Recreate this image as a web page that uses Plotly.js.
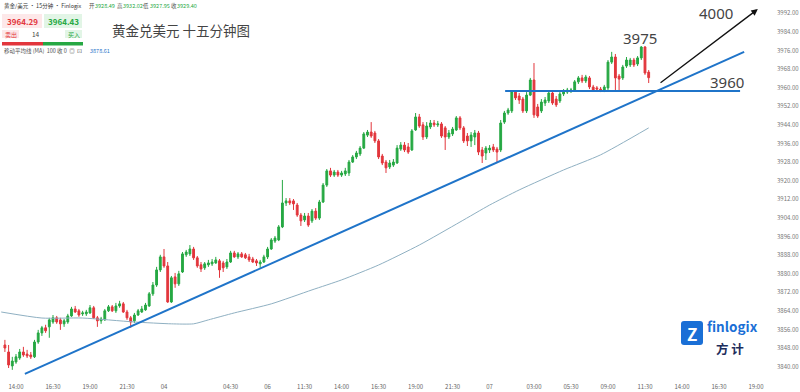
<!DOCTYPE html>
<html><head><meta charset="utf-8">
<script src="https://cdn.plot.ly/plotly-3.0.1.min.js"></script>
<style>html,body{margin:0;padding:0;background:#fff;}#chart{width:800px;height:392px;}</style>
</head><body><div id="chart"></div>
<script>
// ---- data (15-minute candles, index 0 = first "14:00" tick) ----
const firstIndex = -3;
const openP = [
3849.3,3846.3,3840.3,3842.0,3843.7,3846.3,3845.4,3845.0,3844.2,3850.6,
3854.5,3856.7,3857.1,3859.2,3861.0,3860.1,3858.4,3859.2,3861.8,3864.8,
3864.0,3862.7,3862.7,3863.1,3865.3,3861.0,3859.7,3860.1,3864.0,3865.7,
3864.0,3866.1,3867.0,3863.5,3861.0,3859.7,3862.2,3863.5,3864.4,3866.1,
3871.3,3875.1,3881.6,3887.2,3883.3,3867.8,3878.6,3875.6,3880.7,3888.1,
3888.5,3890.6,3886.8,3883.8,3882.5,3883.8,3884.2,3884.6,3885.5,3884.6,
3882.9,3885.0,3888.9,3887.2,3888.5,3888.1,3887.2,3886.3,3885.5,3884.2,
3885.0,3887.2,3890.6,3894.0,3894.5,3900.1,3910.4,3911.3,3911.3,3909.5,
3905.2,3903.1,3904.8,3902.7,3906.9,3903.9,3910.8,3918.1,3924.2,3922.4,
3923.7,3922.4,3922.9,3923.3,3928.0,3930.2,3931.5,3934.0,3939.6,3940.9,
3940.5,3937.1,3930.6,3928.0,3925.9,3926.7,3927.6,3933.6,3935.3,3934.5,
3933.2,3941.8,3947.4,3944.0,3938.8,3943.1,3944.8,3944.0,3944.4,3942.7,
3938.8,3940.1,3941.8,3947.0,3942.7,3939.2,3937.1,3938.8,3940.5,3933.2,
3931.9,3933.2,3934.5,3933.6,3933.2,3945.2,3949.1,3950.0,3958.1,3956.4,
3955.1,3950.0,3956.8,3963.3,3951.7,3950.0,3953.4,3954.3,3957.7,3955.1,
3954.3,3957.3,3958.1,3958.6,3959.0,3962.5,3964.2,3962.9,3964.2,3960.3,
3959.9,3959.4,3959.0,3959.9,3971.0,3973.2,3965.0,3964.2,3969.3,3969.8,
3971.9,3970.2,3972.8,3977.5,3966.7];
const closeP = [
3848.0,3840.7,3842.4,3844.2,3846.3,3845.0,3844.6,3844.2,3850.6,3854.5,
3856.7,3855.4,3860.1,3861.0,3859.2,3858.4,3859.7,3861.8,3864.8,3863.5,
3862.2,3863.1,3863.5,3865.3,3861.0,3859.7,3860.5,3864.0,3865.7,3864.0,
3866.1,3867.0,3863.5,3861.0,3859.2,3862.2,3864.0,3864.8,3866.5,3871.3,
3875.1,3881.6,3887.2,3883.3,3867.8,3878.2,3875.6,3879.9,3888.5,3889.3,
3890.6,3886.8,3883.3,3882.0,3884.2,3884.6,3885.0,3885.9,3881.6,3882.5,
3885.0,3888.9,3887.2,3888.5,3887.2,3886.8,3885.9,3885.0,3884.6,3885.0,
3887.2,3890.6,3894.5,3895.3,3900.1,3910.4,3911.3,3910.4,3910.0,3905.2,
3902.7,3904.8,3900.9,3906.9,3903.9,3910.8,3918.1,3924.2,3922.4,3923.7,
3922.4,3923.3,3924.2,3928.0,3930.2,3931.9,3934.0,3940.1,3940.9,3939.2,
3937.1,3930.2,3927.6,3925.5,3927.6,3928.0,3934.0,3935.3,3933.2,3932.3,
3941.4,3947.4,3943.5,3938.8,3943.5,3944.8,3944.0,3944.4,3939.2,3938.8,
3940.5,3942.2,3947.0,3942.7,3937.1,3937.1,3939.6,3940.5,3932.3,3930.6,
3934.0,3934.0,3933.2,3932.3,3944.8,3949.1,3950.4,3958.1,3955.6,3954.7,
3950.0,3956.8,3963.3,3948.3,3947.8,3953.8,3954.7,3957.7,3953.4,3952.6,
3957.3,3958.6,3959.0,3959.0,3962.5,3964.2,3962.9,3964.6,3960.3,3959.0,
3959.4,3959.0,3960.3,3971.0,3973.2,3964.2,3963.7,3968.9,3971.9,3971.9,
3969.8,3972.8,3977.5,3966.3,3964.3];
const highP = [
3851.5,3849.3,3844.2,3845.4,3847.6,3848.5,3847.2,3846.3,3851.5,3855.8,
3857.5,3858.0,3861.0,3862.2,3861.8,3861.0,3860.5,3862.7,3865.7,3866.1,
3864.8,3864.0,3864.4,3866.5,3866.1,3861.8,3861.4,3864.8,3866.5,3866.5,
3867.4,3868.3,3867.8,3864.4,3861.8,3863.1,3864.8,3866.1,3867.4,3872.1,
3876.4,3882.9,3888.1,3890.6,3885.0,3879.0,3880.3,3881.2,3889.3,3890.2,
3892.3,3891.5,3887.6,3885.0,3885.0,3885.9,3886.3,3887.2,3886.3,3885.5,
3886.3,3889.8,3889.8,3889.3,3889.3,3888.9,3888.5,3887.2,3886.3,3885.9,
3888.1,3891.5,3895.3,3896.2,3900.9,3920.3,3912.5,3912.5,3912.1,3910.4,
3906.1,3906.1,3906.1,3907.8,3908.2,3911.7,3919.0,3925.0,3925.5,3924.6,
3924.6,3924.2,3925.5,3928.9,3931.0,3932.8,3934.9,3940.9,3941.8,3945.2,
3941.4,3937.9,3931.5,3928.9,3928.9,3929.3,3935.3,3936.6,3936.6,3936.2,
3942.2,3949.1,3948.7,3945.2,3945.2,3946.1,3946.1,3945.7,3945.2,3943.5,
3941.8,3943.1,3947.8,3947.8,3943.5,3940.5,3940.9,3941.8,3941.4,3934.5,
3934.9,3935.3,3935.8,3934.5,3946.1,3950.0,3951.3,3959.0,3959.0,3957.7,
3956.0,3958.1,3964.2,3970.6,3953.0,3955.1,3956.0,3958.6,3958.6,3956.4,
3958.1,3959.4,3959.9,3959.9,3963.3,3965.0,3965.5,3965.5,3965.0,3961.2,
3960.7,3960.3,3961.2,3971.9,3975.4,3974.5,3965.9,3969.8,3973.2,3972.8,
3972.8,3973.6,3977.9,3977.9,3967.6];
const lowP = [
3846.3,3839.4,3838.6,3841.2,3842.9,3844.2,3843.7,3843.3,3843.7,3849.8,
3853.2,3854.5,3852.4,3858.4,3858.4,3855.8,3857.1,3858.4,3861.4,3863.1,
3861.4,3861.8,3861.8,3862.7,3860.5,3857.1,3858.4,3859.7,3863.5,3863.5,
3863.1,3865.3,3863.1,3860.1,3856.7,3858.8,3861.8,3863.1,3864.0,3865.7,
3870.4,3874.3,3880.7,3882.5,3867.4,3867.4,3873.9,3874.7,3880.3,3887.2,
3887.6,3885.9,3882.5,3880.7,3881.6,3882.9,3883.3,3884.2,3878.2,3880.7,
3882.0,3884.6,3886.8,3886.3,3886.8,3886.3,3885.0,3884.6,3883.3,3882.5,
3884.6,3886.3,3890.2,3893.2,3894.0,3899.6,3909.1,3909.5,3907.4,3904.4,
3900.5,3902.2,3900.1,3901.8,3903.1,3903.1,3910.4,3917.3,3921.6,3921.6,
3921.6,3921.6,3922.0,3922.0,3927.6,3929.3,3930.6,3933.6,3938.8,3938.4,
3936.2,3929.3,3926.7,3923.3,3925.0,3925.9,3927.2,3932.8,3932.3,3931.5,
3932.8,3941.4,3942.7,3937.5,3937.9,3942.2,3943.1,3943.1,3938.4,3933.2,
3937.9,3939.2,3941.4,3941.8,3936.2,3934.9,3934.5,3935.3,3931.0,3927.6,
3928.9,3931.9,3932.3,3928.0,3932.3,3944.4,3948.3,3949.1,3954.7,3953.0,
3949.1,3949.1,3956.4,3947.0,3947.0,3949.1,3952.1,3953.4,3952.6,3951.7,
3953.4,3956.4,3957.3,3957.7,3958.6,3961.6,3962.0,3962.0,3959.4,3958.6,
3958.6,3958.1,3958.1,3959.0,3970.2,3959.0,3959.0,3963.3,3968.5,3968.9,
3968.9,3969.3,3971.9,3965.5,3962.0];

const tickIndex  = [0,10,20,30,40,58,68,78,88,98,108,118,128,140,150,160,170,180,190,200];
const tickLabels = ['14:00','16:30','19:00','21:30','04','04:30','06','11:30','14:00','16:30','19:00','21:30','07','03:00','05:30','09:00','11:30','14:00','16:30','19:00'];
const priceTicks = [3840,3848,3856,3864,3872,3880,3888,3896,3904,3912,3920,3928,3936,3944,3952,3960,3968,3976,3984,3992];

// MA(100)
const maIndex = [-4,7,18,32,42,48,52,59,69,80,88,98,109,120,128,136,148,158,171];
const maValue = [3863.5,3860.9,3860.9,3859.2,3858.4,3858.4,3860.1,3863.1,3867.0,3873.0,3877.3,3883.7,3892.3,3902.2,3909.5,3916.0,3924.6,3931.1,3942.7];

// drawn analysis lines
const trendIndex = [2.4, 196.8];
const trendValue = [3836.9, 3975.4];
const levelIndex = [132.2, 195.7];
const levelValue = [3958.6, 3958.6];
const arrowIndex = [173.8, 200.5];
const arrowValue = [3961.6, 3993.8];
const noteLabels = ['4000','3975','3960'];

const headerQuote = {open:'3928.49', high:'3932.02', low:'3927.95', close:'3929.40'};
const bidAsk = {sell:'3964.29', buy:'3964.43', spread:'14', ma:'3878.61'};

// ---- build ----
const idx = openP.map((_, i) => firstIndex + i);
const GREEN = '#26a843', RED = '#e2363c', BLUE = '#1f74c9';
const CJK = 'Noto Sans CJK SC, Noto Sans, sans-serif';

const traces = [
  {type:'scatter', mode:'lines', x:maIndex, y:maValue, line:{color:'#8fb0c2', width:1, shape:'spline', smoothing:0.6}, hoverinfo:'skip'},
  {type:'candlestick', x:idx, open:openP, high:highP, low:lowP, close:closeP,
   increasing:{line:{color:GREEN, width:1}, fillcolor:GREEN},
   decreasing:{line:{color:RED, width:1}, fillcolor:RED}, whiskerwidth:0},
  {type:'scatter', mode:'lines', x:trendIndex, y:trendValue, line:{color:BLUE, width:2}, hoverinfo:'skip'},
  {type:'scatter', mode:'lines', x:levelIndex, y:levelValue, line:{color:BLUE, width:2}, hoverinfo:'skip'}
];

const PW = 780, PH = 378;
const px = x => x / PW, py = y => 1 - y / PH;
function rect(x0,y0,x1,y1,fill){return {type:'rect',xref:'paper',yref:'paper',x0:px(x0),x1:px(x1),y0:py(y1),y1:py(y0),fillcolor:fill,line:{width:0},layer:'above'};}
function txt(x,y,t,size,color,anchor,bold){return {xref:'paper',yref:'paper',x:px(x),y:py(y),text:bold?'<b>'+t+'</b>':t,showarrow:false,xanchor:anchor||'left',yanchor:'middle',font:{family:CJK,size:size,color:color}};}

const notePos = [[189.2,3992.1],[168.6,3981.4],[192.2,3962.4]];
const HS = 5.5;
const annotations = [
  txt(2,6,'黄金/美元 · 15分钟 · Finlogix',HS,'#333'),
  txt(87,6,'开',HS,'#555'), txt(93,6,headerQuote.open,HS,GREEN),
  txt(115,6,'高',HS,'#555'), txt(121,6,headerQuote.high,HS,GREEN),
  txt(141,6,'低',HS,'#555'), txt(148,6,headerQuote.low,HS,GREEN),
  txt(169,6,'收',HS,'#555'), txt(175,6,headerQuote.close,HS,GREEN),
  txt(22,21,bidAsk.sell,8,RED,'center',true),
  txt(63,21,bidAsk.buy,8,GREEN,'center',true),
  txt(10.5,34,'卖出',6,RED,'center'),
  txt(36,34,bidAsk.spread,6.5,'#444','center'),
  txt(73.5,34,'买入',6,GREEN,'center'),
  txt(2,51,'移动平均线 (MA)  100 收 0  ◎  ⊡',5.5,'#555'),
  txt(88,51,bidAsk.ma,5.5,BLUE),
  txt(110,30,'黄金兑美元 十五分钟图',13.5,'#444'),
  txt(692,333,'Z',17,'#ffffff','center',true),
  txt(705,326,'finlogix',13.5,'#1a6fd6','left',true),
  txt(714,348,'方 计',12.5,'#1d2d5c','left',true),
  {xref:'x',yref:'y',axref:'x',ayref:'y',x:arrowIndex[1],y:arrowValue[1],ax:arrowIndex[0],ay:arrowValue[0],
   text:'',showarrow:true,arrowhead:2,arrowsize:1,arrowwidth:1.3,arrowcolor:'#111'}
];
noteLabels.forEach((t,i)=>annotations.push({xref:'x',yref:'y',x:notePos[i][0],y:notePos[i][1],text:t,showarrow:false,
  xanchor:'center',yanchor:'middle',font:{family:'Noto Sans, sans-serif',size:15,color:'#444'}}));

const L=681, R=703, T=321, B=345;
const shapes = [
  rect(2,14,42,28,'#fde8e9'), rect(44,14,82,28,'#e2f5e6'),
  rect(2,30,19,38,'#fde8e9'), rect(65,30,82,38,'#e2f5e6'),
  rect(2,42,43,45.5,RED), rect(43,42,83,45.5,GREEN),
  {type:'path',xref:'paper',yref:'paper',layer:'above',fillcolor:'#1a6fd6',line:{width:0},
   path:`M ${px(L+3)} ${py(T)} L ${px(R-3)} ${py(T)} Q ${px(R)} ${py(T)} ${px(R)} ${py(T+3)} L ${px(R)} ${py(B-3)} Q ${px(R)} ${py(B)} ${px(R-3)} ${py(B)} L ${px(L+3)} ${py(B)} Q ${px(L)} ${py(B)} ${px(L)} ${py(B-3)} L ${px(L)} ${py(T+3)} Q ${px(L)} ${py(T)} ${px(L+3)} ${py(T)} Z`}
];

const layout = {
  width:800, height:392, paper_bgcolor:'#fff', plot_bgcolor:'#fff',
  margin:{l:0, r:20, t:0, b:14}, showlegend:false,
  font:{family:CJK, color:'#555'},
  xaxis:{range:[-4.324, 206.49], tickmode:'array', tickvals:tickIndex, ticktext:tickLabels,
         showgrid:false, zeroline:false, showline:false, ticks:'', tickfont:{size:6, color:'#666'},
         ticklabelstandoff:4, rangeslider:{visible:false}, fixedrange:true},
  yaxis:{range:[3835.1, 3997.72], side:'right', anchor:'free', position:776/780, tickmode:'array',
         tickvals:priceTicks, ticktext:priceTicks.map(v=>v.toFixed(2)),
         showgrid:false, zeroline:false, showline:false, ticks:'', tickfont:{size:6, color:'#777'}},
  annotations, shapes
};
Plotly.newPlot('chart', traces, layout, {displayModeBar:false, staticPlot:true});
</script></body></html>
